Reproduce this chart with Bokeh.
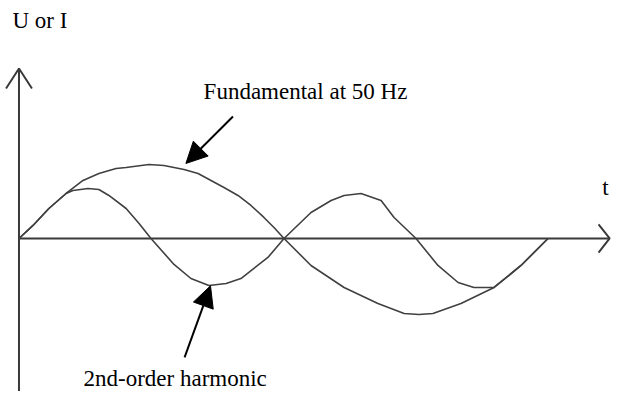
from bokeh.plotting import figure
from bokeh.models import Range1d, Arrow, NormalHead, ColumnDataSource
from bokeh.core.properties import value
from bokeh.embed import file_html
from bokeh.resources import INLINE

# ---- data: t in ms (50 Hz period = 20 ms), amplitude relative to fundamental peak
fund_t = [0.00, 0.53, 1.13, 1.78, 2.42, 3.02, 3.67, 4.05, 4.91, 5.48, 6.24, 6.77, 7.26, 7.75, 8.28, 8.77, 9.26, 9.64, 10.02,
          11.04, 12.29, 13.57, 14.56, 15.12, 15.65, 16.71, 17.96, 18.98, 20.00]
fund_y = [0.000, 0.176, 0.405, 0.608, 0.784, 0.878, 0.946, 0.959, 1.000, 0.986, 0.932, 0.878, 0.784, 0.689, 0.581, 0.446, 0.284, 0.149, 0.000,
          -0.365, -0.662, -0.878, -1.014, -1.027, -1.014, -0.878, -0.662, -0.365, 0.000]

harm_t = [0.00, 0.53, 1.13, 1.78, 2.04, 2.61, 3.02, 3.40, 4.05, 4.54, 4.99, 5.86, 6.50, 7.18, 7.83, 8.39, 9.41, 10.02,
          11.04, 11.80, 12.29, 12.93, 13.69, 14.18, 15.01, 15.84, 16.60, 17.20, 17.96, 18.98, 20.00]
harm_y = [0.000, 0.176, 0.405, 0.608, 0.649, 0.676, 0.662, 0.581, 0.405, 0.203, 0.000, -0.351, -0.541, -0.635, -0.608, -0.541, -0.257, 0.000,
          0.351, 0.514, 0.581, 0.608, 0.514, 0.284, 0.000, -0.365, -0.595, -0.662, -0.662, -0.365, 0.000]

y_axis_label = "U or I"
x_axis_label = "t"
fund_label = "Fundamental at 50 Hz"
harm_label = "2nd-order harmonic"

# ---- layout constants (positions in data units)
X_START, X_END = -0.699, 22.40
Y_START, Y_END = -2.068, 3.216
X_TIP = 22.33
Y_TIP = 2.297
Y_BOTTOM = -2.3

FONT = value("Liberation Serif")

p = figure(width=611, height=391, output_backend="svg", toolbar_location=None,
           x_range=Range1d(X_START, X_END), y_range=Range1d(Y_START, Y_END),
           x_axis_location=None, y_axis_location=None, min_border=0)
p.grid.visible = False
p.outline_line_color = None
p.background_fill_color = "white"
p.border_fill_color = "white"

AXC = "#3a3a3a"
# axes
p.line([0, X_TIP], [0, 0], line_color=AXC, line_width=2)
p.line([0, 0], [Y_BOTTOM, Y_TIP], line_color=AXC, line_width=2)
# open arrow heads
p.line([X_TIP - 0.42, X_TIP, X_TIP - 0.42], [0.19, 0, -0.19], line_color=AXC, line_width=2)
p.line([-0.49, 0, 0.49], [Y_TIP - 0.27, Y_TIP, Y_TIP - 0.27], line_color=AXC, line_width=2)

# curves
p.line(fund_t, fund_y, line_color="#404040", line_width=1.6, line_join="round")
p.line(harm_t, harm_y, line_color="#404040", line_width=1.6, line_join="round")

# annotation arrows
p.add_layout(Arrow(x_start=8.09, y_start=1.649, x_end=6.31, y_end=1.014,
                   line_color="black", line_width=2,
                   end=NormalHead(size=21, fill_color="black", line_color="black", line_width=1)))
p.add_layout(Arrow(x_start=6.26, y_start=-1.608, x_end=7.24, y_end=-0.640,
                   line_color="black", line_width=2,
                   end=NormalHead(size=21, fill_color="black", line_color="black", line_width=1)))

# texts
src = ColumnDataSource(dict(
    x=[-0.245, 6.98, 22.05, 2.44],
    y=[2.946, 1.980, 0.689, -1.892],
    t=[y_axis_label, fund_label, x_axis_label, harm_label],
))
p.text(x="x", y="y", text="t", source=src, text_font=FONT, text_font_size="23px",
       text_color="black", text_align="left", text_baseline="alphabetic")

open("out.html", "w").write(file_html(p, INLINE))
